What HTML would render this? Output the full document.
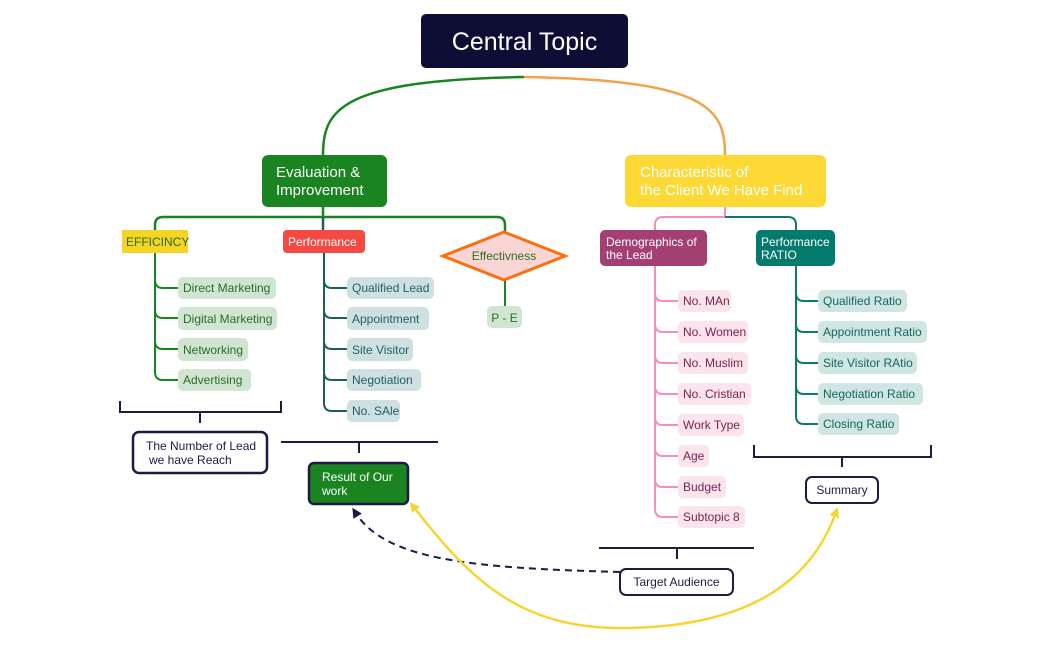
<!DOCTYPE html>
<html><head><meta charset="utf-8"><style>
html,body{margin:0;padding:0;background:#fff;}
svg{display:block;font-family:"Liberation Sans",sans-serif;}
</style></head><body>
<svg width="1050" height="650" viewBox="0 0 1050 650" xmlns="http://www.w3.org/2000/svg">
<defs>
<marker id="ay" markerWidth="10" markerHeight="10" refX="5" refY="5" orient="auto-start-reverse" markerUnits="userSpaceOnUse"><path d="M0,0 L10,5 L0,10 Z" fill="#f7d530"/></marker>
<marker id="an" markerWidth="10" markerHeight="10" refX="5" refY="5" orient="auto" markerUnits="userSpaceOnUse"><path d="M0,0 L10,5 L0,10 Z" fill="#1b1b45"/></marker>
</defs>
<!-- top connectors -->
<path d="M524,77 C 340,80 323,110 323,155" fill="none" stroke="#1a8520" stroke-width="2.5"/>
<path d="M524,77 C 710,80 725,110 725,155" fill="none" stroke="#f5a04a" stroke-width="2.5"/>
<rect x="421" y="14" width="207" height="54" rx="5" fill="#0d0d35"/>
<text x="524.5" y="50" font-size="25" fill="#fff" text-anchor="middle">Central Topic</text>

<!-- Left branch -->
<path d="M323,207 V217 M163,217 H497 Q505,217 505,225 V231 M163,217 Q155,217 155,225 V230" fill="none" stroke="#1a8520" stroke-width="2.5"/>
<path d="M323,217 V230" stroke="#1c5f5c" stroke-width="2.5"/>
<rect x="262" y="155" width="125" height="52" rx="6" fill="#1a8520"/>
<text x="276" y="177" font-size="15" fill="#fff">Evaluation &amp;</text>
<text x="276" y="195" font-size="15" fill="#fff">Improvement</text>

<rect x="122" y="230" width="66" height="23" fill="#f3d427"/>
<text x="126" y="246" font-size="12" fill="#2d6a1c">EFFICINCY</text>
<rect x="283" y="230" width="82" height="23" rx="4" fill="#f44a43"/>
<text x="288" y="246" font-size="12" fill="#fff">Performance</text>
<polygon points="504,232 565,256 504,280 443,256" fill="#f9d6d4" stroke="#fb6f12" stroke-width="3"/>
<text x="504" y="260" font-size="12" fill="#2d6a2a" text-anchor="middle">Effectivness</text>
<path d="M505,281 V306" stroke="#1a8520" stroke-width="2"/>
<rect x="487" y="306" width="35" height="22" rx="5" fill="#d0e6d3"/>
<text x="504.5" y="322" font-size="12" fill="#2d6a2a" text-anchor="middle">P - E</text>

<!-- Efficiency items -->
<path d="M155,253 V372 Q155,380 163,380 H178 M155,280 Q155,288 163,288 H178 M155,310 Q155,318 163,318 H178 M155,341 Q155,349 163,349 H178" fill="none" stroke="#1a8520" stroke-width="2"/>
<g font-size="12" fill="#2d6a2a">
<rect x="178" y="277" width="98" height="22" rx="5" fill="#d0e6d3"/><text x="183" y="292">Direct Marketing</text>
<rect x="178" y="307" width="99" height="23" rx="5" fill="#d0e6d3"/><text x="183" y="323">Digital Marketing</text>
<rect x="178" y="338" width="70" height="23" rx="5" fill="#d0e6d3"/><text x="183" y="354">Networking</text>
<rect x="178" y="369" width="73" height="22" rx="5" fill="#d0e6d3"/><text x="183" y="384">Advertising</text>
</g>
<!-- Performance items -->
<path d="M324,253 V403 Q324,411 332,411 H347 M324,280 Q324,288 332,288 H347 M324,310 Q324,318 332,318 H347 M324,341 Q324,349 332,349 H347 M324,372 Q324,380 332,380 H347" fill="none" stroke="#1c5f5c" stroke-width="2"/>
<g font-size="12" fill="#1f5f6a">
<rect x="347" y="277" width="87" height="22" rx="5" fill="#cfe0e0"/><text x="352" y="292">Qualified Lead</text>
<rect x="347" y="307" width="82" height="23" rx="5" fill="#cfe0e0"/><text x="352" y="323">Appointment</text>
<rect x="347" y="338" width="66" height="23" rx="5" fill="#cfe0e0"/><text x="352" y="354">Site Visitor</text>
<rect x="347" y="369" width="74" height="22" rx="5" fill="#cfe0e0"/><text x="352" y="384">Negotiation</text>
<rect x="347" y="400" width="53" height="22" rx="5" fill="#cfe0e0"/><text x="352" y="415">No. SAle</text>
</g>

<!-- brackets left -->
<g stroke="#1b1b45" stroke-width="2" fill="none">
<path d="M120,401 V412 H281 V401 M200,412 V423"/>
<path d="M281,442 H438 M359,442 V453"/>
</g>
<rect x="133" y="432" width="134" height="41" rx="6" fill="#fff" stroke="#1b1b45" stroke-width="2.5"/>
<text x="146" y="450" font-size="12" fill="#1b1b45">The Number of Lead</text>
<text x="149" y="464" font-size="12" fill="#1b1b45">we have Reach</text>
<rect x="309" y="463" width="99" height="41" rx="5" fill="#1a8520" stroke="#1b1b45" stroke-width="2.5"/>
<text x="322" y="481" font-size="12" fill="#fff">Result of Our</text>
<text x="322" y="495" font-size="12" fill="#fff">work</text>

<!-- Right branch -->
<path d="M725,207 V217 H663 Q655,217 655,225 V230" fill="none" stroke="#f48fc0" stroke-width="2"/>
<path d="M725,217 H788 Q796,217 796,225 V230" fill="none" stroke="#0e7a6c" stroke-width="2"/>
<rect x="625" y="155" width="201" height="52" rx="6" fill="#fcd934"/>
<text x="640" y="177" font-size="15" fill="#fff">Characteristic of</text>
<text x="640" y="195" font-size="15" fill="#fff">the Client We Have Find</text>

<rect x="600" y="230" width="107" height="36" rx="5" fill="#a43f72"/>
<text x="606" y="246" font-size="12" fill="#fff">Demographics of</text>
<text x="606" y="259" font-size="12" fill="#fff">the Lead</text>
<rect x="756" y="230" width="79" height="36" rx="5" fill="#027a6c"/>
<text x="761" y="246" font-size="12" fill="#fff">Performance</text>
<text x="761" y="259" font-size="12" fill="#fff">RATIO</text>

<path d="M655,266 V509 Q655,517 663,517 H678 M655,293 Q655,301 663,301 H678 M655,324 Q655,332 663,332 H678 M655,355 Q655,363 663,363 H678 M655,386 Q655,394 663,394 H678 M655,417 Q655,425 663,425 H678 M655,448 Q655,456 663,456 H678 M655,479 Q655,487 663,487 H678" fill="none" stroke="#f48fc0" stroke-width="2"/>
<g font-size="12" fill="#7a2150">
<rect x="678" y="290" width="53" height="22" rx="5" fill="#fce4ec"/><text x="683" y="305">No. MAn</text>
<rect x="678" y="321" width="70" height="22" rx="5" fill="#fce4ec"/><text x="683" y="336">No. Women</text>
<rect x="678" y="352" width="70" height="22" rx="5" fill="#fce4ec"/><text x="683" y="367">No. Muslim</text>
<rect x="678" y="383" width="73" height="22" rx="5" fill="#fce4ec"/><text x="683" y="398">No.  Cristian</text>
<rect x="678" y="414" width="66" height="22" rx="5" fill="#fce4ec"/><text x="683" y="429">Work Type</text>
<rect x="678" y="445" width="31" height="22" rx="5" fill="#fce4ec"/><text x="683" y="460">Age</text>
<rect x="678" y="476" width="48" height="22" rx="5" fill="#fce4ec"/><text x="683" y="491">Budget</text>
<rect x="678" y="506" width="67" height="22" rx="5" fill="#fce4ec"/><text x="683" y="521">Subtopic 8</text>
</g>

<path d="M796,266 V416 Q796,424 804,424 H818 M796,293 Q796,301 804,301 H818 M796,324 Q796,332 804,332 H818 M796,355 Q796,363 804,363 H818 M796,386 Q796,394 804,394 H818" fill="none" stroke="#0e7a6c" stroke-width="2"/>
<g font-size="12" fill="#14675d">
<rect x="818" y="290" width="89" height="22" rx="5" fill="#cfe6e2"/><text x="823" y="305">Qualified Ratio</text>
<rect x="818" y="321" width="109" height="22" rx="5" fill="#cfe6e2"/><text x="823" y="336">Appointment Ratio</text>
<rect x="818" y="352" width="99" height="22" rx="5" fill="#cfe6e2"/><text x="823" y="367">Site Visitor RAtio</text>
<rect x="818" y="383" width="105" height="22" rx="5" fill="#cfe6e2"/><text x="823" y="398">Negotiation Ratio</text>
<rect x="818" y="413" width="81" height="22" rx="5" fill="#cfe6e2"/><text x="823" y="428">Closing Ratio</text>
</g>

<g stroke="#1b1b45" stroke-width="2" fill="none">
<path d="M754,445 V457 H931 V445 M842,457 V467"/>
<path d="M599,548 H754 M677,548 V559"/>
</g>
<rect x="806" y="477" width="72" height="26" rx="6" fill="#fff" stroke="#1b1b45" stroke-width="2"/>
<text x="842" y="494" font-size="12" fill="#1b1b45" text-anchor="middle">Summary</text>
<rect x="620" y="569" width="113" height="26" rx="6" fill="#fff" stroke="#1b1b45" stroke-width="2"/>
<text x="676.5" y="586" font-size="12" fill="#1b1b45" text-anchor="middle">Target Audience</text>

<!-- relationship curves -->
<path d="M620,572 C 470,568 385,560 355,512" fill="none" stroke="#1b1b45" stroke-width="2" stroke-dasharray="7,5" marker-end="url(#an)"/>
<path d="M413,506 C 470,580 520,628 620,628 C 720,628 805,600 836,512" fill="none" stroke="#f7d530" stroke-width="2.5" marker-start="url(#ay)" marker-end="url(#ay)"/>
</svg>
</body></html>
